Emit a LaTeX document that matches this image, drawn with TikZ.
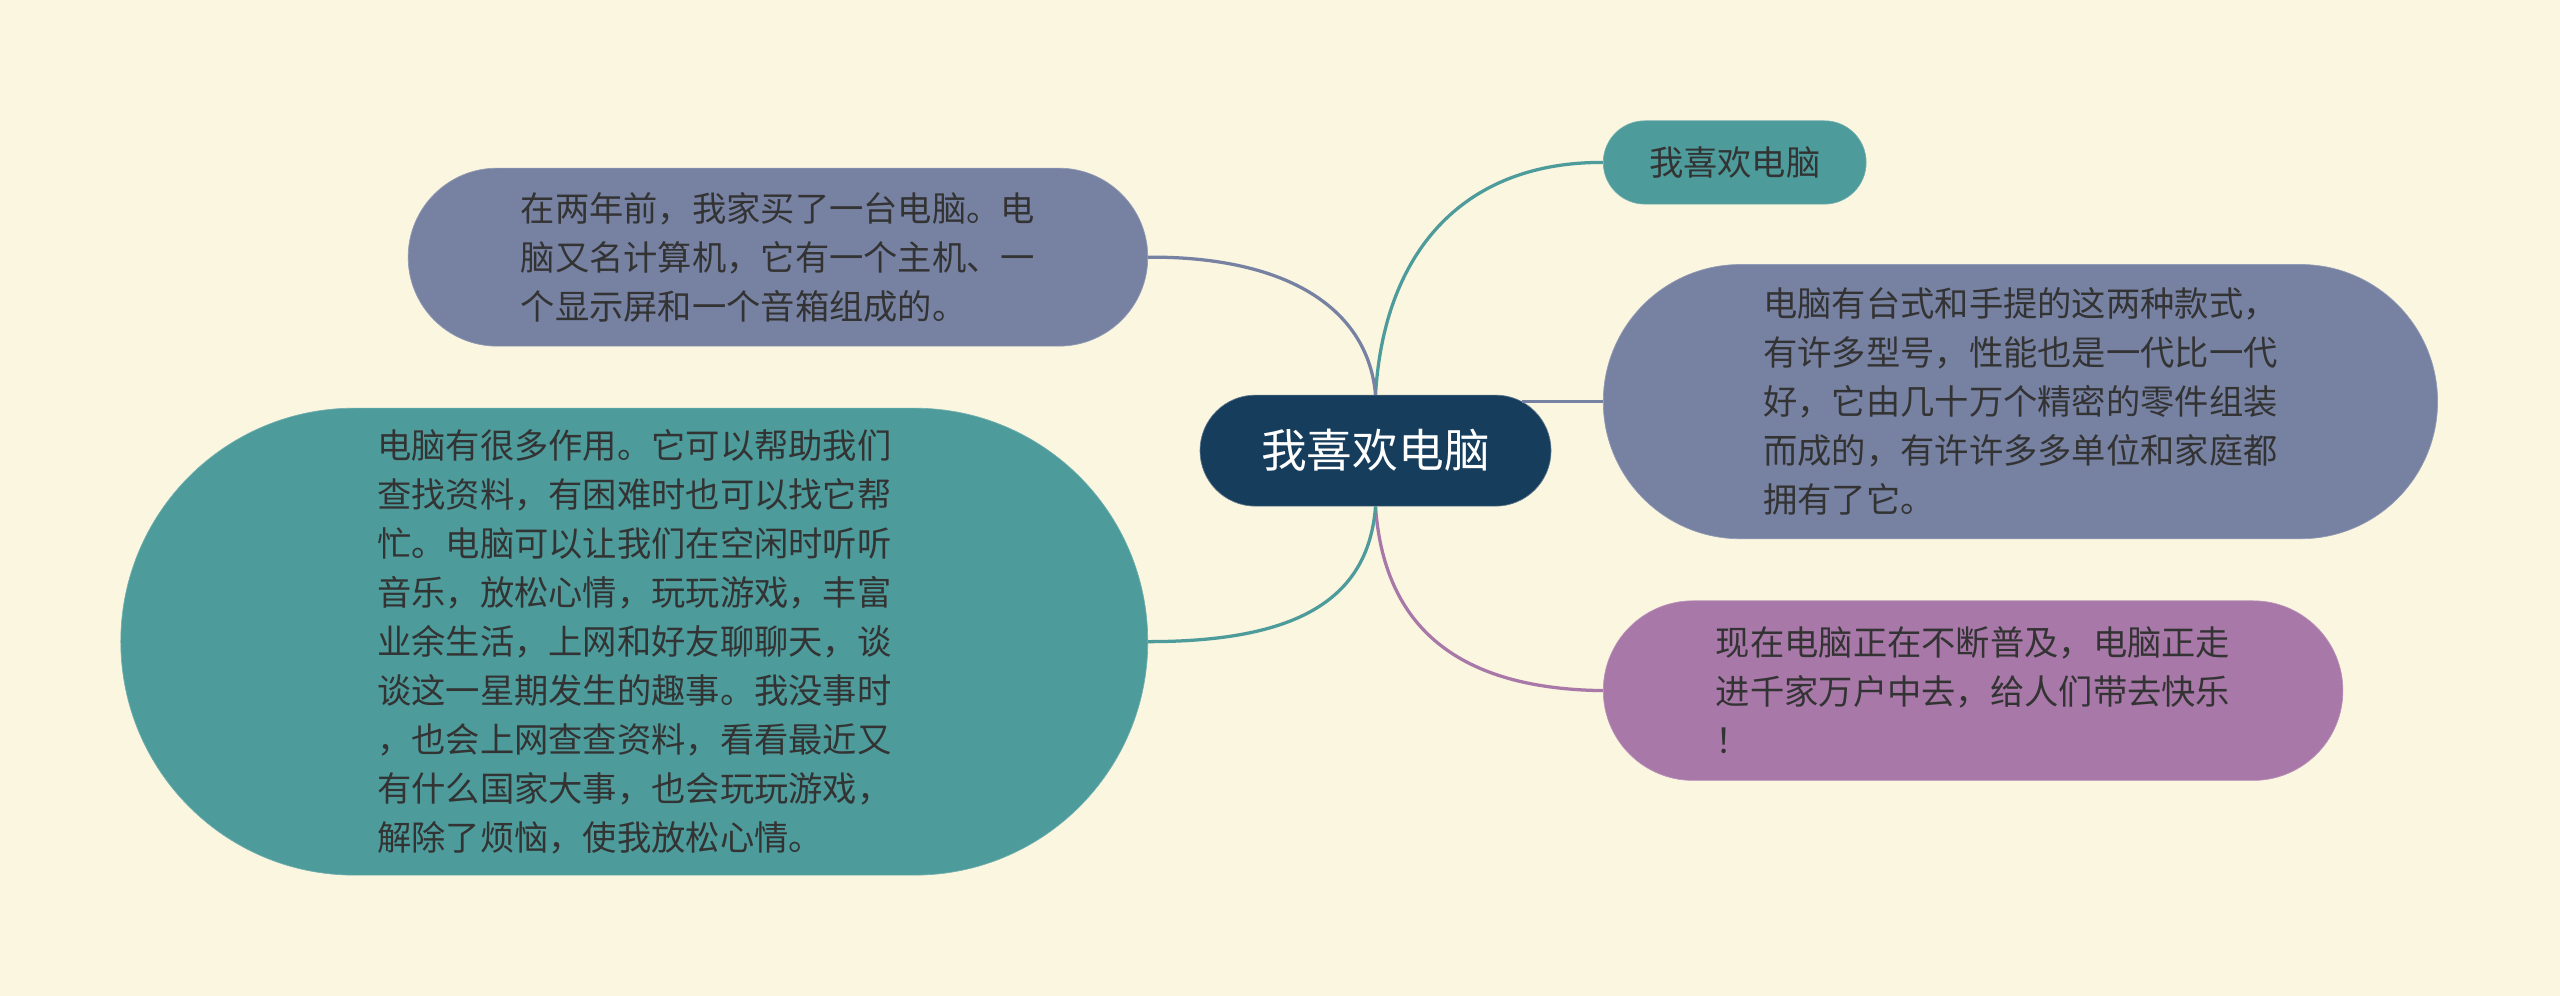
\documentclass[tikz,border=0pt]{standalone}
\usepackage{fontspec}
\setmainfont{Noto Sans CJK SC}
\usetikzlibrary{shapes.misc}
\definecolor{bg}{HTML}{FAF6E0}
\definecolor{navy}{HTML}{173D5C}
\definecolor{teal}{HTML}{4D9B9B}
\definecolor{slate}{HTML}{7782A3}
\definecolor{purp}{HTML}{A878A8}
\definecolor{txt}{HTML}{333333}
\tikzset{
 box/.style={rounded rectangle, inner sep=0pt, align=left, text=txt, font=\fontsize{21}{30}\selectfont},
 link/.style={line width=2pt},
}
\begin{document}
\begin{tikzpicture}[x=1pt,y=-1pt]
\fill[bg] (0,0) rectangle (1568,610);
\useasboundingbox (0,0) rectangle (1568,610);
\node[box, fill=navy, draw=navy!70!white, text=white, font=\fontsize{28}{32}\selectfont, minimum width=215, minimum height=68] (c) at (842.5,276) {我喜欢电脑};
\node[box, fill=teal, draw=teal!80!white, minimum width=161, minimum height=51] (r1) at (1062.5,99.5) {我喜欢电脑};
\node[box, fill=slate, draw=slate!80!white, minimum width=511, minimum height=168] (r2) at (1237.5,246) {电脑有台式和手提的这两种款式，\\有许多型号，性能也是一代比一代\\好，它由几十万个精密的零件组装\\而成的，有许许多多单位和家庭都\\拥有了它。};
\node[box, fill=purp, draw=purp!80!white, minimum width=453, minimum height=110] (r3) at (1208.5,423) {现在电脑正在不断普及，电脑正走\\进千家万户中去，给人们带去快乐\\！};
\node[box, fill=slate, draw=slate!80!white, minimum width=453, minimum height=109] (l1) at (476.5,157.5) {在两年前，我家买了一台电脑。电\\脑又名计算机，它有一个主机、一\\个显示屏和一个音箱组成的。};
\node[box, fill=teal, draw=teal!80!white, minimum width=629, minimum height=286] (l2) at (388.5,393) {电脑有很多作用。它可以帮助我们\\查找资料，有困难时也可以找它帮\\忙。电脑可以让我们在空闲时听听\\音乐，放松心情，玩玩游戏，丰富\\业余生活，上网和好友聊聊天，谈\\谈这一星期发生的趣事。我没事时\\，也会上网查查资料，看看最近又\\有什么国家大事，也会玩玩游戏，\\解除了烦恼，使我放松心情。};
\draw[link, teal] (c.north) .. controls (848,150) and (900,99) .. (r1.west);
\draw[link, slate] (c.east) ++(-18,-30) coordinate (s2) (s2) -- (r2.west);
\draw[link, purp] (c.south) .. controls (848,390) and (900,422) .. (r3.west);
\draw[link, slate] (c.north) .. controls (838,190) and (790,157) .. (l1.east);
\draw[link, teal] (c.south) .. controls (838,370) and (790,393) .. (l2.east);
\end{tikzpicture}
\end{document}
